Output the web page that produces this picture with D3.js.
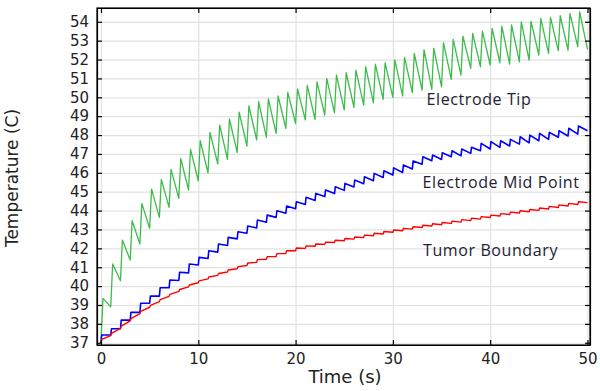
<!DOCTYPE html>
<html>
<head>
<meta charset="utf-8">
<script src="https://cdn.jsdelivr.net/npm/d3@7"></script>
<style>
  body { margin: 0; background: #fff; }
  svg { display: block; }
  .axis text { font-family: "DejaVu Sans", sans-serif; font-size: 15px; fill: #222; }
  .grid line { stroke: #e2e2e2; stroke-width: 1.2; }
  .grid path { display: none; }
  .note { font-family: "Open Sans", sans-serif; font-size: 16px; letter-spacing: 0.6px; fill: #222233; }
</style>
</head>
<body>
<div id="chart"></div>
<script>
// time axis: one heating cycle per second, 50 cycles
const cycles = d3.range(50);
const xTicks = [0, 10, 20, 30, 40, 50];
const yTicks = d3.range(37, 55);
const startTemp = 37;

// Electrode tip: value right after each pulse, value at end of each cycle
const tipHigh = [39.35, 41.17, 42.44, 43.46, 44.38, 45.14, 45.65, 46.18, 46.75, 47.24,
  47.70, 48.14, 48.53, 48.85, 49.22, 49.54, 49.77, 49.91, 50.07, 50.26,
  50.44, 50.63, 50.82, 51.00, 51.18, 51.30, 51.44, 51.62, 51.75, 51.82,
  51.98, 52.12, 52.32, 52.52, 52.60, 52.90, 53.07, 53.24, 53.39, 53.51,
  53.65, 53.77, 53.83, 54.00, 54.02, 54.18, 54.23, 54.32, 54.45, 54.53];
const tipEnd = [38.90, 40.28, 41.38, 42.23, 43.06, 43.64, 44.17, 44.65, 45.09, 45.58,
  46.00, 46.47, 46.71, 47.08, 47.42, 47.74, 47.88, 48.09, 48.36, 48.62,
  48.80, 48.83, 49.06, 49.18, 49.33, 49.47, 49.59, 49.71, 49.89, 50.00,
  50.07, 50.25, 50.38, 50.42, 50.56, 50.95, 51.18, 51.53, 51.62, 51.71,
  51.83, 51.76, 51.88, 51.97, 52.24, 52.33, 52.47, 52.50, 52.68, 52.54];

// Electrode mid point
const midHigh = [37.41, 37.74, 38.20, 38.61, 39.09, 39.47, 39.91, 40.32, 40.73, 41.17,
  41.52, 41.87, 42.23, 42.58, 42.88, 43.18, 43.50, 43.76, 43.99, 44.24,
  44.47, 44.70, 44.91, 45.09, 45.26, 45.44, 45.62, 45.79, 45.97, 46.11,
  46.26, 46.41, 46.62, 46.85, 46.94, 47.06, 47.17, 47.26, 47.35, 47.56,
  47.65, 47.70, 47.77, 47.91, 48.00, 48.09, 48.14, 48.23, 48.36, 48.48];
const midEnd = [37.41, 37.74, 38.20, 38.61, 39.09, 39.47, 39.91, 40.30, 40.70, 41.12,
  41.46, 41.80, 42.15, 42.50, 42.80, 43.08, 43.38, 43.64, 43.86, 44.10,
  44.32, 44.54, 44.74, 44.90, 45.07, 45.25, 45.42, 45.58, 45.75, 45.88,
  46.02, 46.20, 46.45, 46.64, 46.71, 46.85, 46.90, 47.03, 47.17, 47.26,
  47.35, 47.42, 47.52, 47.59, 47.70, 47.77, 47.88, 47.95, 48.05, 48.23];

// Tumor boundary
const tumorHigh = [37.18, 37.50, 37.88, 38.28, 38.66, 38.98, 39.28, 39.56, 39.82, 40.06,
  40.28, 40.48, 40.67, 40.85, 41.03, 41.22, 41.40, 41.56, 41.72, 41.88,
  42.02, 42.13, 42.23, 42.33, 42.43, 42.52, 42.60, 42.70, 42.80, 42.89,
  42.97, 43.06, 43.14, 43.22, 43.30, 43.37, 43.44, 43.52, 43.60, 43.68,
  43.76, 43.84, 43.92, 43.99, 44.06, 44.14, 44.22, 44.30, 44.38, 44.47];
const tumorEnd = [37.38, 37.76, 38.16, 38.54, 38.88, 39.18, 39.46, 39.72, 39.96, 40.18,
  40.38, 40.57, 40.75, 40.92, 41.09, 41.26, 41.42, 41.57, 41.72, 41.87,
  42.00, 42.11, 42.21, 42.31, 42.40, 42.49, 42.57, 42.67, 42.76, 42.85,
  42.93, 43.02, 43.10, 43.18, 43.25, 43.32, 43.39, 43.47, 43.55, 43.63,
  43.71, 43.79, 43.87, 43.94, 44.01, 44.08, 44.16, 44.24, 44.32, 44.42];

const labels = [
  {text: "Electrode Tip", t: 33.46, v: 49.61},
  {text: "Electrode Mid Point", t: 33.05, v: 45.18},
  {text: "Tumor Boundary", t: 33.1, v: 41.61}
];

const margin = {top: 8, left: 97, right: 10, bottom: 46};
const width = 600 - margin.left - margin.right,
      height = 391 - margin.top - margin.bottom;

const svg = d3.select("#chart").append("svg")
    .attr("width", 600)
    .attr("height", 391)
  .append("g")
    .attr("transform", `translate(${margin.left},${margin.top})`);

const x = d3.scaleLinear().domain([-0.41, 50.26]).range([0, width]);
const y = d3.scaleLinear().domain([36.88, 54.73]).range([height, 0]);

// grid
svg.append("g").attr("class", "grid")
    .attr("transform", `translate(0,${height})`)
    .call(d3.axisBottom(x).tickValues(xTicks).tickSize(-height).tickFormat(""));
svg.append("g").attr("class", "grid")
    .call(d3.axisLeft(y).tickValues(yTicks).tickSize(-width).tickFormat(""));

// series built from pulse values: jump at each second, then decay to the cycle end
function buildSeries(high, end, rise) {
  const pts = [[0, startTemp]];
  cycles.forEach(k => {
    pts.push([k + rise, high[k]]);
    pts.push([k + 1, end[k]]);
  });
  return pts;
}

const line = d3.line().x(d => x(d[0])).y(d => y(d[1]));

const series = [
  {pts: buildSeries(tipHigh, tipEnd, 0.2), color: "#3cbc4a", w: 1.3},
  {pts: buildSeries(midHigh, midEnd, 0.08), color: "#0000ff", w: 1.6},
  {pts: buildSeries(tumorHigh, tumorEnd, 0.08), color: "#ff0000", w: 1.4}
];

svg.append("defs").append("clipPath").attr("id", "clip")
  .append("rect").attr("width", width).attr("height", height);

svg.selectAll(".series")
    .data(series)
    .enter()
    .append("path")
    .attr("class", "series")
    .attr("clip-path", "url(#clip)")
    .attr("d", d => line(d.pts))
    .style("fill", "none")
    .style("stroke", d => d.color)
    .style("stroke-width", d => d.w)
    .style("stroke-linejoin", "round");

// frame + inward ticks on all four sides
svg.append("rect")
    .attr("width", width).attr("height", height)
    .style("fill", "none").style("stroke", "#000").style("stroke-width", 1.2);

svg.append("g").attr("class", "axis")
    .attr("transform", `translate(0,${height})`)
    .call(d3.axisBottom(x).tickValues(xTicks).tickSizeInner(-5).tickSizeOuter(0).tickPadding(8));
svg.append("g").attr("class", "axis")
    .call(d3.axisLeft(y).tickValues(yTicks).tickSizeInner(-5).tickSizeOuter(0).tickPadding(8));
svg.append("g").attr("class", "axis")
    .call(d3.axisTop(x).tickValues(xTicks).tickSizeInner(-5).tickSizeOuter(0).tickFormat(""));
svg.append("g").attr("class", "axis")
    .attr("transform", `translate(${width},0)`)
    .call(d3.axisRight(y).tickValues(yTicks).tickSizeInner(-5).tickSizeOuter(0).tickFormat(""));
svg.selectAll(".axis path").style("stroke", "#000").style("stroke-width", 1.2);
svg.selectAll(".axis line").style("stroke", "#000").style("stroke-width", 1.2);

// axis titles
svg.append("text")
    .attr("x", 248).attr("y", height + 38)
    .attr("text-anchor", "middle")
    .style("font-family", "DejaVu Sans, sans-serif").style("font-size", "18px").style("fill", "#222")
    .text("Time (s)");

svg.append("text")
    .attr("transform", `translate(${-79},${170}) rotate(-90)`)
    .attr("text-anchor", "middle")
    .style("font-family", "DejaVu Sans, sans-serif").style("font-size", "17px").style("fill", "#222")
    .text("Temperature (C)");

// curve labels
svg.selectAll(".note")
    .data(labels)
    .enter()
    .append("text")
    .attr("class", "note")
    .attr("x", d => x(d.t))
    .attr("y", d => y(d.v))
    .text(d => d.text);
</script>
</body>
</html>
